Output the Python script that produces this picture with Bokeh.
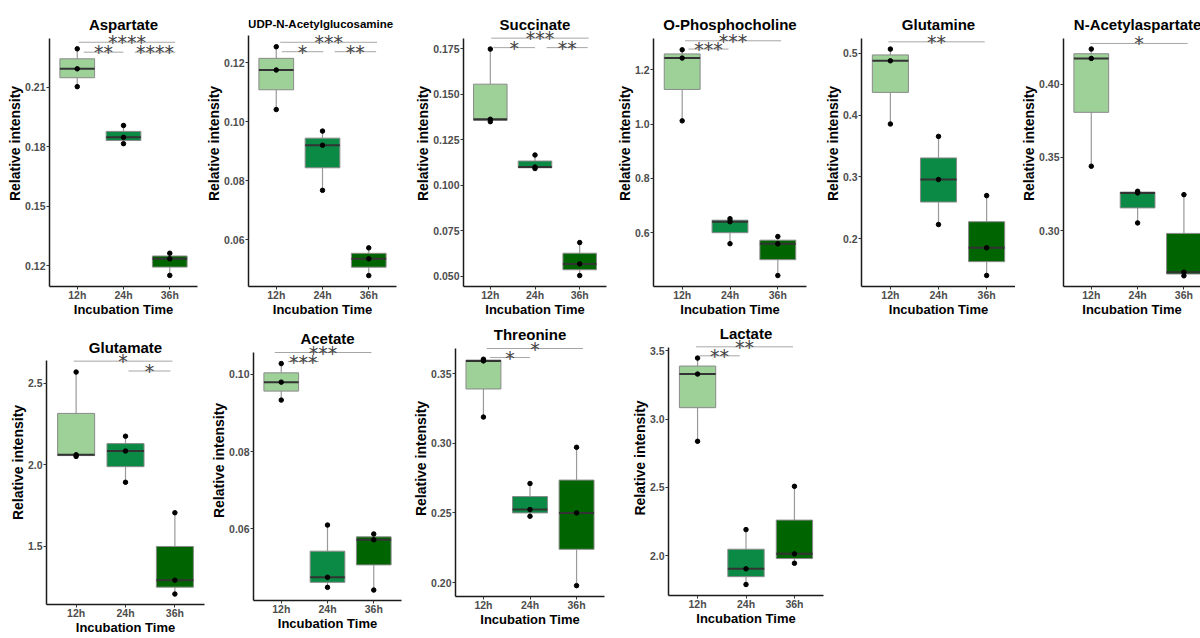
import numpy as np
from bokeh.plotting import figure
from bokeh.layouts import row, column
from bokeh.models import Range1d, FixedTicker, ColumnDataSource, Label
from bokeh.core.properties import value
from bokeh.embed import file_html
from bokeh.resources import INLINE

# ---- data: three replicates per incubation time ----
times = ["12h", "24h", "36h"]
box_colors = ["#9DD198", "#0A8A45", "#006400"]

aspartate = [[0.2294, 0.2193, 0.2103], [0.1907, 0.1847, 0.1815], [0.1262, 0.1234, 0.1150]]
udp_glcnac = [[0.1255, 0.1176, 0.1042], [0.0969, 0.0921, 0.0768], [0.0573, 0.0536, 0.0479]]
succinate = [[0.1747, 0.1362, 0.1349], [0.1166, 0.1100, 0.1092], [0.0686, 0.0569, 0.0505]]
phosphocholine = [[1.2735, 1.2430, 1.0120], [0.6520, 0.6410, 0.5600], [0.5864, 0.5596, 0.4430]]
glutamine = [[0.5065, 0.4876, 0.3855], [0.3655, 0.2958, 0.2231], [0.2698, 0.1855, 0.1408]]
n_acetylaspartate = [[0.4239, 0.4175, 0.3439], [0.3268, 0.3257, 0.3052], [0.3245, 0.2716, 0.2691]]
glutamate = [[2.570, 2.062, 2.052], [2.176, 2.085, 1.893], [1.706, 1.2915, 1.2067]]
acetate = [[0.10274, 0.09794, 0.0933], [0.0610, 0.0475, 0.0449], [0.0587, 0.0572, 0.0442]]
threonine = [[0.3603, 0.3591, 0.3188], [0.2711, 0.2524, 0.2476], [0.2971, 0.2500, 0.1978]]
lactate = [[3.4466, 3.3295, 2.8369], [2.190, 1.9027, 1.788], [2.507, 2.0124, 1.9436]]

# y tick labels of each panel
aspartate_ticks = ["0.12", "0.15", "0.18", "0.21"]
udp_glcnac_ticks = ["0.06", "0.08", "0.10", "0.12"]
succinate_ticks = ["0.050", "0.075", "0.100", "0.125", "0.150", "0.175"]
phosphocholine_ticks = ["0.6", "0.8", "1.0", "1.2"]
glutamine_ticks = ["0.2", "0.3", "0.4", "0.5"]
n_acetylaspartate_ticks = ["0.30", "0.35", "0.40"]
glutamate_ticks = ["1.5", "2.0", "2.5"]
acetate_ticks = ["0.06", "0.08", "0.10"]
threonine_ticks = ["0.20", "0.25", "0.30", "0.35"]
lactate_ticks = ["2.0", "2.5", "3.0", "3.5"]

# significance brackets: (label, x start, x end, y level)
aspartate_sig = [("****", 1.03, 3.12, 0.2327), ("**", 1.14, 2.00, 0.2277), ("****", 2.24, 3.12, 0.2277)]
udp_glcnac_sig = [("***", 1.085, 3.18, 0.1270), ("*", 1.12, 2.02, 0.1238), ("**", 2.26, 3.16, 0.1238)]
succinate_sig = [("***", 1.02, 3.20, 0.1807), ("*", 1.07, 2.00, 0.1755), ("**", 2.26, 3.18, 0.1755)]
phosphocholine_sig = [("***", 1.06, 3.07, 1.3066), ("***", 1.13, 1.97, 1.2761)]
glutamine_sig = [("**", 0.96, 2.96, 0.5182)]
n_acetylaspartate_sig = [("*", 0.98, 3.08, 0.4277)]
glutamate_sig = [("*", 0.95, 2.95, 2.637), ("*", 2.06, 2.91, 2.5764)]
acetate_sig = [("***", 0.86, 2.95, 0.1056), ("***", 1.14, 1.81, 0.10325)]
threonine_sig = [("*", 1.07, 3.14, 0.3680), ("*", 1.14, 2.00, 0.3615)]
lactate_sig = [("**", 0.97, 2.97, 3.529), ("**", 1.04, 1.87, 3.463)]

# ---- panel geometry (page pixels): figure box, plot frame, axis limits ----
panels = [
    dict(title="Aspartate", values=aspartate, ticks=aspartate_ticks, sig=aspartate_sig,
         box=(0, 0, 200, 320), frame=(49, 38, 286, 148), ylim=(0.1094, 0.2346), title_y=24),
    dict(title="UDP-N-Acetylglucosamine", values=udp_glcnac, ticks=udp_glcnac_ticks, sig=udp_glcnac_sig,
         box=(200, 0, 200, 320), frame=(248, 35, 286, 148), ylim=(0.0442, 0.1293), title_y=23,
         title_size="11.5px", title_x=1.96),
    dict(title="Succinate", values=succinate, ticks=succinate_ticks, sig=succinate_sig,
         box=(400, 0, 208, 320), frame=(463, 38, 286, 143), ylim=(0.0445, 0.1805), title_y=24),
    dict(title="O-Phosphocholine", values=phosphocholine, ticks=phosphocholine_ticks, sig=phosphocholine_sig,
         box=(608, 0, 200, 320), frame=(653, 38, 286, 153), ylim=(0.4026, 1.315), title_y=24),
    dict(title="Glutamine", values=glutamine, ticks=glutamine_ticks, sig=glutamine_sig,
         box=(808, 0, 207, 320), frame=(861, 38, 286, 154), ylim=(0.123, 0.5236), title_y=24),
    dict(title="N-Acetylaspartate", values=n_acetylaspartate, ticks=n_acetylaspartate_ticks,
         sig=n_acetylaspartate_sig, box=(1015, 0, 185, 320), frame=(1063, 38, 286, 137),
         ylim=(0.2618, 0.4311), title_y=24, x_end=3.358),
    dict(title="Glutamate", values=glutamate, ticks=glutamate_ticks, sig=glutamate_sig,
         box=(0, 320, 208, 318), frame=(46, 360, 604, 158), ylim=(1.1424, 2.641), title_y=346.7),
    dict(title="Acetate", values=acetate, ticks=acetate_ticks, sig=acetate_sig,
         box=(208, 320, 200, 318), frame=(252, 352, 600, 149), ylim=(0.0415, 0.1056), title_y=338.3),
    dict(title="Threonine", values=threonine, ticks=threonine_ticks, sig=threonine_sig,
         box=(408, 320, 205, 318), frame=(455, 348, 596, 149), ylim=(0.19, 0.368), title_y=334),
    dict(title="Lactate", values=lactate, ticks=lactate_ticks, sig=lactate_sig,
         box=(613, 320, 215, 318), frame=(668, 347, 595, 155), ylim=(1.7074, 3.524), title_y=332.7),
]

FONT_NAME = "Liberation Sans"


def box_stats(groups):
    xs, q1s, meds, q3s, los, his = [], [], [], [], [], []
    for i, vals in enumerate(groups):
        v = np.asarray(vals, dtype=float)
        q1, med, q3 = np.percentile(v, [25, 50, 75])
        iqr = q3 - q1
        lo = v[v >= q1 - 1.5 * iqr].min()
        hi = v[v <= q3 + 1.5 * iqr].max()
        xs.append(i + 1)
        q1s.append(q1); meds.append(med); q3s.append(q3); los.append(lo); his.append(hi)
    return dict(x=xs, q1=q1s, med=meds, q3=q3s, lo=los, hi=his,
                left=[x - 0.375 for x in xs], right=[x + 0.375 for x in xs],
                color=box_colors[:len(xs)])


def make_panel(spec):
    x0, y0, w, h = spec["box"]
    L, T, B, fw = spec["frame"]
    ylo, yhi = spec["ylim"]
    ppu = (B - T) / (yhi - ylo)
    y_end = yhi + (T - y0) / ppu
    x_end = spec.get("x_end", 3.6)

    p = figure(width=w, height=h, x_range=Range1d(0.4, x_end), y_range=Range1d(ylo, y_end),
               output_backend="svg", toolbar_location=None,
               min_border_left=L - x0, min_border_right=w - (L - x0) - fw,
               min_border_top=0, min_border_bottom=y0 + h - B)
    p.outline_line_color = None
    p.background_fill_color = "white"
    p.border_fill_color = "white"
    p.xgrid.visible = False
    p.ygrid.visible = False

    src = ColumnDataSource(box_stats(spec["values"]))
    # whiskers
    p.segment(x0="x", y0="q3", x1="x", y1="hi", source=src, line_color="#9a9a9a", line_width=1.2)
    p.segment(x0="x", y0="lo", x1="x", y1="q1", source=src, line_color="#9a9a9a", line_width=1.2)
    # boxes
    p.vbar(x="x", width=0.75, bottom="q1", top="q3", source=src, fill_color="color",
           line_color="#8a8a8a", line_width=1)
    # medians
    p.segment(x0="left", y0="med", x1="right", y1="med", source=src, line_color="#333333", line_width=2)

    # replicate points
    px, py = [], []
    for i, vals in enumerate(spec["values"]):
        px += [i + 1] * len(vals)
        py += list(vals)
    p.scatter(px, py, size=4.5, color="black")

    # significance brackets
    sig = spec["sig"]
    p.segment(x0=[s[1] for s in sig], y0=[s[3] for s in sig], x1=[s[2] for s in sig],
              y1=[s[3] for s in sig], line_color="#a6a6a6", line_width=1)
    p.text(x=[(s[1] + s[2]) / 2 for s in sig], y=[s[3] for s in sig], text=[s[0] for s in sig],
           text_font=value("DejaVu Sans"), text_font_size="19px", text_color="#444444",
           text_align="center", text_baseline="middle")

    # panel title
    title_val = yhi + (T - spec["title_y"]) / ppu
    p.add_layout(Label(x=spec.get("title_x", 2.0), y=title_val, text=spec["title"],
                       text_font=FONT_NAME, text_font_style="bold",
                       text_font_size=spec.get("title_size", "15px"), text_color="black",
                       text_align="center", text_baseline="middle"))

    # axes
    p.xaxis.ticker = FixedTicker(ticks=[1, 2, 3])
    p.xaxis.major_label_overrides = {i + 1: t for i, t in enumerate(times)}
    tick_vals = [float(t) for t in spec["ticks"]]
    p.yaxis.ticker = FixedTicker(ticks=tick_vals)
    p.yaxis.major_label_overrides = {float(t): t for t in spec["ticks"]}
    p.yaxis.bounds = (ylo, yhi)
    p.xaxis.axis_label = "Incubation Time"
    p.yaxis.axis_label = "Relative intensity"
    for ax in (p.xaxis[0], p.yaxis[0]):
        ax.axis_line_color = "#1a1a1a"
        ax.axis_line_width = 1.5
        ax.major_tick_line_color = "#333333"
        ax.major_tick_out = 3
        ax.major_tick_in = 0
        ax.minor_tick_line_color = None
        ax.major_label_text_font = FONT_NAME
        ax.major_label_text_font_style = "bold"
        ax.major_label_text_font_size = "10.5px"
        ax.major_label_text_color = "#4d4d4d"
        ax.axis_label_text_font = FONT_NAME
        ax.axis_label_text_font_style = "bold"
        ax.axis_label_text_color = "black"
    p.yaxis.major_label_standoff = 1
    p.yaxis.axis_label_standoff = -1
    p.xaxis.major_label_standoff = -1
    p.xaxis.axis_label_standoff = -2
    p.xaxis.axis_label_text_font_size = "13px"
    p.yaxis.axis_label_text_font_size = "14px"
    return p


figs = [make_panel(s) for s in panels]
# each panel sits in its own column so its frame keeps its own position
layout = column(row(*[column(f) for f in figs[:6]]), row(*[column(f) for f in figs[6:]]))

with open("out.html", "w") as f:
    f.write(file_html(layout, INLINE))
